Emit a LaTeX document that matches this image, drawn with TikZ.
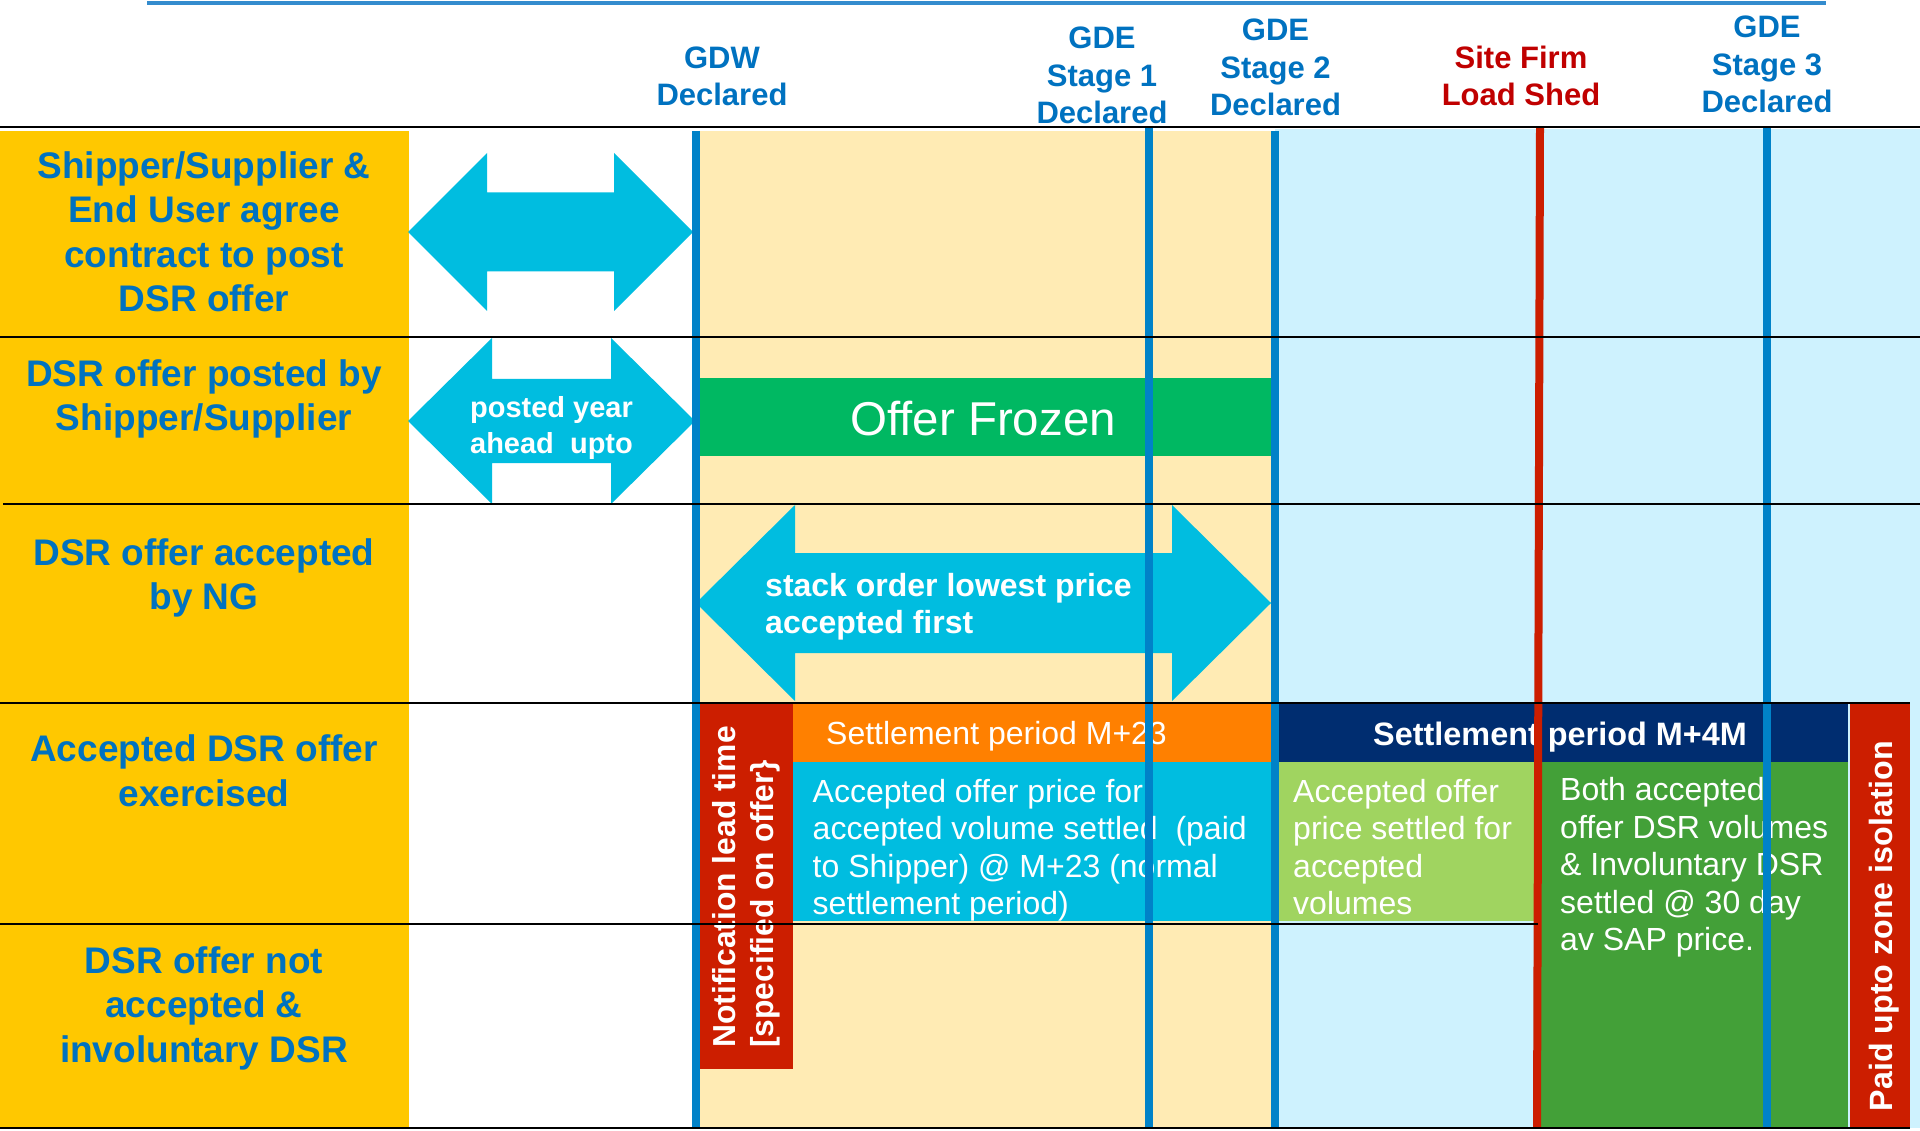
\documentclass[tikz,border=0pt]{standalone}
\usepackage{fontspec}
\setmainfont{Liberation Sans}
\usepackage{tikz}
\usetikzlibrary{positioning}
\usetikzlibrary{calc}

\definecolor{lblue}{RGB}{0,114,192}
\definecolor{vblue}{RGB}{0,130,200}
\definecolor{topblue}{RGB}{52,140,206}
\definecolor{shedred}{RGB}{192,0,0}
\definecolor{colyellow}{RGB}{255,200,0}
\definecolor{paleyellow}{RGB}{255,235,180}
\definecolor{palecyan}{RGB}{206,242,254}
\definecolor{arrowcyan}{RGB}{0,189,224}
\definecolor{frozengreen}{RGB}{0,184,98}
\definecolor{boxred}{RGB}{204,30,0}
\definecolor{orangebar}{RGB}{255,128,0}
\definecolor{navybar}{RGB}{0,45,112}
\definecolor{lightgreen}{RGB}{160,212,96}
\definecolor{darkgreen}{RGB}{67,160,56}

% left tip x, right tip x, centre y, half shaft, half head, head length
\newcommand{\dblarrow}[6]{%
  \fill[arrowcyan] (#1,#3) -- ({#1+#6},{#3-#5}) -- ({#1+#6},{#3-#4}) -- ({#2-#6},{#3-#4})
    -- ({#2-#6},{#3-#5}) -- (#2,#3) -- ({#2-#6},{#3+#5}) -- ({#2-#6},{#3+#4})
    -- ({#1+#6},{#3+#4}) -- ({#1+#6},{#3+#5}) -- cycle;}

\begin{document}
\begin{tikzpicture}[x=1pt,y=-1pt,
  hdr/.style={align=center,inner sep=0pt,text=lblue,font=\fontsize{31}{37.5}\selectfont\bfseries},
  lbl/.style={align=center,inner sep=0pt,text=lblue,font=\fontsize{37}{44.5}\selectfont\bfseries},
  atxt/.style={align=center,inner sep=0pt,text=white,font=\fontsize{29}{36}\selectfont\bfseries},
  btxt/.style={align=left,inner sep=0pt,text=white,font=\fontsize{32}{37.5}\selectfont},
  vtxt/.style={align=left,inner sep=0pt,text=white,rotate=90,font=\fontsize{31.8}{38}\selectfont\bfseries},
  rowline/.style={black,line width=2pt},
  event/.style={vblue,line width=8pt},
]
\fill[white] (0,0) rectangle (1920,1131);
\useasboundingbox (0,0) rectangle (1920,1131);

% backgrounds
\fill[colyellow] (0,131) rectangle (409,1128);
\fill[paleyellow] (700,131) rectangle (1275,1128);
\fill[palecyan] (1275,129) rectangle (1920,1128);

% arrows
\dblarrow{408}{693}{232}{39.5}{79}{79}
\dblarrow{408}{695}{421}{42}{83}{84}
\dblarrow{696}{1271}{603}{50}{98}{99}

\fill[frozengreen] (695,378) rectangle (1271,456);

% row 4 boxes
\fill[boxred] (696,703) rectangle (793,1069);
\fill[orangebar] (793,703) rectangle (1271,762);
\fill[arrowcyan] (793,762) rectangle (1271,921);
\fill[navybar] (1278,703) rectangle (1848,762);
\fill[lightgreen] (1278,762) rectangle (1536,921);
\fill[darkgreen] (1540,762) rectangle (1848,1127);
\fill[boxred] (1850,703) rectangle (1910,1128);

% header
\node[hdr] (gdw) at (722,76.5) {GDW\\Declared};
\node[hdr] (gde1) at (1102,75.5) {GDE\\Stage 1\\Declared};
\node[hdr] (gde2) at (1275.5,67.5) {GDE\\Stage 2\\Declared};
\node[hdr,text=shedred] (shed) at (1521,76) {Site Firm\\Load Shed};
\node[hdr] (gde3) at (1767,64.5) {GDE\\Stage 3\\Declared};

% row labels
\node[lbl] (contract) at (204,232) {Shipper/Supplier \&\\End User agree\\contract to post\\DSR offer};
\node[lbl] (posted) at (204,399) {DSR offer posted by\\Shipper/Supplier};
\node[lbl] (accepted) at (204,578) {DSR offer accepted\\by NG};
\node[lbl] (exercised) at (204,771) {Accepted DSR offer\\exercised};
\node[lbl] (notacc) at (204,1008) {DSR offer not\\accepted \&\\involuntary DSR};

% texts on the bars
\node[atxt] (yearahead) at (551.5,428) {posted year\\ahead\ \ upto};
\node[atxt,align=left,anchor=west,font=\fontsize{32}{37}\selectfont\bfseries] (stack) at (765,607) {stack order lowest price\\accepted first};
\node[inner sep=0pt,text=white,font=\fontsize{47.5}{56}\selectfont] (frozen) at (983,419) {Offer Frozen};
\node[vtxt] (leadtime) at (746,887) {Notification lead time\\{[}specified on offer\}};
\node[btxt,anchor=base west] (m23) at (826,744) {Settlement period M+23};
\node[btxt,anchor=north west] (normal) at (812.5,779) {Accepted offer price for\\accepted volume settled\ \ (paid\\to Shipper) @ M+23 (normal\\settlement period)};
\node[btxt,anchor=base,font=\fontsize{32.4}{37.5}\selectfont\bfseries] (m4m) at (1560,745) {Settlement period M+4M};
\node[btxt,anchor=north west] (volumes) at (1293,779) {Accepted offer\\price settled for\\accepted\\volumes};
\node[btxt,anchor=north west] (sap) at (1560,777.5) {Both accepted\\offer DSR volumes\\\& Involuntary DSR\\settled @ 30 day\\av SAP price.};
\node[vtxt,font=\fontsize{32.2}{38}\selectfont\bfseries] (isolation) at (1884,926) {Paid upto zone isolation};

% event lines
\coordinate (gdw-t) at (696,131);   \coordinate (gdw-b) at (696,1128);
\coordinate (gde1-t) at (1149,126); \coordinate (gde1-b) at (1149,1128);
\coordinate (gde2-t) at (1275,131); \coordinate (gde2-b) at (1275,1128);
\coordinate (shed-t) at (1540,127); \coordinate (shed-b) at (1537,1128);
\coordinate (gde3-t) at (1767,127); \coordinate (gde3-b) at (1767,1128);
\draw[event] (gdw-t) -- (gdw-b);
\draw[event] (gde1-t) -- (gde1-b);
\draw[event] (gde2-t) -- (gde2-b);
\draw[boxred,line width=8pt] (shed-t) -- (shed-b);
\draw[event] (gde3-t) -- (gde3-b);

% row lines
\draw[rowline] (0,127) -- (1920,127);
\draw[rowline] (0,337) -- (1920,337);
\draw[rowline] (3,504) -- (1920,504);
\draw[rowline] (0,703) -- (1910,703);
\draw[rowline] (0,924) -- (1538,924);
\draw[rowline] (0,1128) -- (1910,1128);
\draw[topblue,line width=4pt] (147,3.3) -- (1826,3.3);
\end{tikzpicture}
\end{document}
